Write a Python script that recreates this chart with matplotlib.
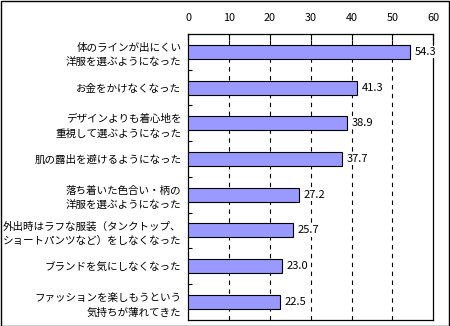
import matplotlib
matplotlib.use("Agg")
import matplotlib.pyplot as plt
from matplotlib.patches import Rectangle

plt.rcParams['font.family'] = ['Noto Sans CJK JP', 'DejaVu Sans']

categories = [
    "体のラインが出にくい\n洋服を選ぶようになった",
    "お金をかけなくなった",
    "デザインよりも着心地を\n重視して選ぶようになった",
    "肌の露出を避けるようになった",
    "落ち着いた色合い・柄の\n洋服を選ぶようになった",
    "外出時はラフな服装（タンクトップ、\nショートパンツなど）をしなくなった",
    "ブランドを気にしなくなった",
    "ファッションを楽しもうという\n気持ちが薄れてきた",
]
values = [54.3, 41.3, 38.9, 37.7, 27.2, 25.7, 23.0, 22.5]
xticks = [0, 10, 20, 30, 40, 50, 60]

fig = plt.figure(figsize=(4.5, 3.26), dpi=100)
ax = fig.add_axes([188.3 / 450, (326 - 319.7) / 326, 245 / 450, (319.7 - 34) / 326])

y = list(range(len(categories)))
ax.barh(y, values, height=0.39, color='#9999FF', edgecolor='black', linewidth=0.8, zorder=3)
for yi, v in zip(y, values):
    ax.text(v + 1.1, yi, f"{v:.1f}", va='center', ha='left', fontsize=8, zorder=4,
            bbox=dict(boxstyle='square,pad=0.1', facecolor='white', edgecolor='none'))

ax.set_xlim(0, 60)
ax.set_ylim(len(categories) - 0.5, -0.5)
ax.set_xticks(xticks)
ax.xaxis.tick_top()
ax.tick_params(axis='x', direction='in', length=4, width=0.8, pad=8, labelsize=7.8)

ax.set_yticks(y)
ax.set_yticklabels(categories, fontsize=7.6, linespacing=1.6)
ax.tick_params(axis='y', which='major', length=0, pad=5)
ax.set_yticks([i + 0.5 for i in range(len(categories) - 1)], minor=True)
ax.tick_params(axis='y', which='minor', direction='in', length=3, width=0.8)

for xv in xticks[1:-1]:
    ax.axvline(xv, color='black', linewidth=0.8, linestyle=(0, (4, 4)), zorder=1)

for s in ax.spines.values():
    s.set_linewidth(0.9)
    s.set_color('black')

fig.add_artist(Rectangle((0.5 / 450, 0.5 / 326), 448.5 / 450, 324.5 / 326,
                         transform=fig.transFigure, fill=False, edgecolor='black', linewidth=1.0))

fig.savefig("out.png", dpi=100)
